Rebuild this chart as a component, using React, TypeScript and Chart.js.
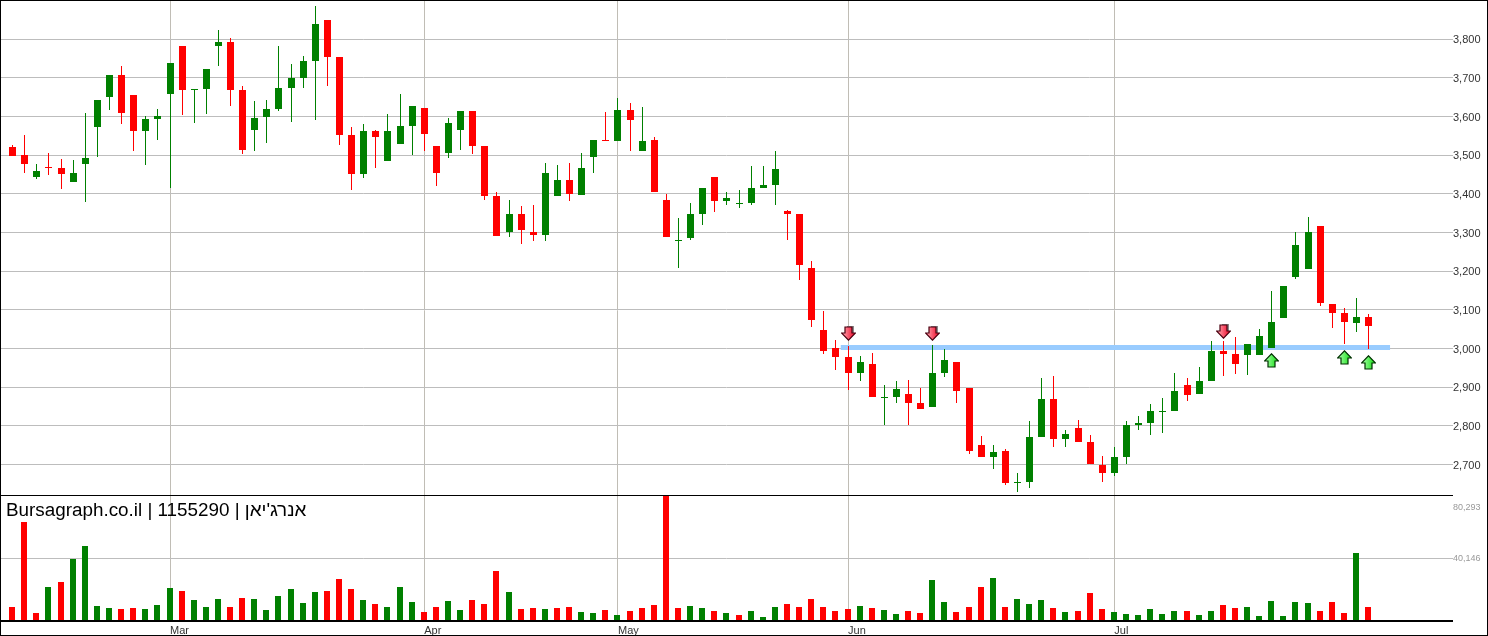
import React, { useEffect, useRef } from "react";
import { Chart, registerables } from "chart.js";

Chart.register(...registerables);

const opens = [3523,3502,3445,3471,3469,3432,3479,3574,3652,3709,3657,3564,3595,3660,3784,3670,3673,3784,3794,3670,3567,3600,3621,3675,3701,3745,3851,3755,3554,3453,3564,3487,3531,3577,3624,3525,3507,3567,3616,3525,3396,3303,3350,3303,3296,3396,3438,3399,3497,3541,3538,3618,3512,3541,3386,3280,3288,3350,3445,3383,3376,3378,3417,3425,3358,3350,3210,3050,3004,2981,2939,2963,2875,2877,2885,2862,2852,2939,2968,2901,2753,2722,2738,2655,2658,2772,2872,2769,2797,2761,2702,2681,2722,2805,2810,2839,2841,2908,2885,2919,2996,2988,2986,2986,3004,3081,3187,3208,3319,3117,3094,3068,3084];
const closes = [3500,3479,3461,3469,3453,3456,3494,3644,3709,3611,3564,3595,3603,3740,3670,3672,3724,3794,3670,3515,3598,3621,3675,3701,3745,3840,3755,3554,3453,3564,3549,3564,3577,3629,3556,3456,3585,3616,3525,3396,3293,3350,3309,3296,3456,3438,3402,3469,3541,3538,3618,3593,3538,3407,3291,3283,3350,3417,3383,3391,3378,3417,3425,3466,3350,3218,3076,2996,2981,2939,2968,2877,2877,2898,2862,2846,2939,2973,2893,2738,2722,2735,2655,2658,2772,2872,2769,2782,2761,2704,2681,2722,2805,2810,2841,2841,2893,2883,2919,2996,2988,2963,3014,3035,3071,3164,3270,3303,3120,3094,3071,3084,3061];
const highs = [3528,3554,3479,3507,3492,3489,3611,3644,3709,3732,3657,3603,3621,3740,3784,3672,3724,3825,3804,3680,3642,3644,3784,3737,3758,3887,3851,3755,3574,3582,3567,3608,3660,3629,3624,3525,3598,3616,3616,3525,3407,3386,3371,3373,3482,3476,3482,3507,3541,3613,3649,3636,3626,3549,3402,3340,3378,3417,3445,3407,3412,3474,3474,3512,3360,3350,3228,3099,3025,3009,2983,2991,2908,2919,2921,2901,3012,3001,2968,2901,2777,2753,2743,2679,2815,2926,2932,2790,2818,2779,2725,2746,2815,2828,2859,2875,2939,2926,2955,3022,3022,3032,3014,3053,3151,3164,3303,3342,3319,3117,3107,3133,3092];
const lows = [3500,3456,3440,3451,3414,3432,3381,3497,3618,3582,3513,3476,3541,3417,3605,3585,3608,3732,3629,3505,3513,3533,3616,3587,3675,3593,3680,3528,3412,3443,3469,3487,3531,3502,3513,3422,3494,3515,3505,3386,3293,3291,3272,3280,3280,3396,3383,3399,3456,3538,3538,3512,3512,3407,3291,3210,3283,3321,3355,3373,3365,3373,3417,3373,3283,3179,3058,2988,2947,2895,2919,2877,2803,2862,2803,2846,2852,2929,2862,2728,2722,2691,2648,2632,2640,2772,2746,2746,2761,2704,2658,2673,2704,2790,2779,2784,2841,2867,2885,2919,2932,2937,2934,2986,3004,3081,3182,3208,3112,3055,3014,3045,3001];
const volumes = [8420,63670,4750,21580,24820,39710,48130,9280,7990,7340,7990,7340,9930,20930,18990,13160,8630,13810,8630,14460,13810,6690,15750,20290,11220,18340,18990,26760,20290,13160,10570,8630,21580,11870,5400,8630,12520,6690,13160,10570,31940,18340,7340,7990,7340,7990,8630,5400,4750,6690,3450,6040,7990,9930,80293,7990,9280,7990,6040,4750,3450,6040,2160,8630,10570,8630,13810,8630,6040,7340,9280,7990,6690,4100,6040,4750,26110,11870,5400,8630,21580,27410,8630,13810,10570,13160,7990,5400,6040,17700,7340,5400,4100,3450,7340,4100,6040,6040,3450,6040,9930,7990,8630,2800,12520,2800,11870,11220,6040,11870,4750,43590,8630];
const volumeDirs = "RRRGRGGGGRRGGGRGGGRRGGGGGGRRRGRGGGRRGGRRR" + "GRRGRRGGRGRRRRRGGRGRGGGRRRRRRGRGGRRGGRRRG" + "RGGGRGRRRGGGGGGRGGRRGGGGGGRRRGR";

const priceTicks = [2700,2800,2900,3000,3100,3200,3300,3400,3500,3600,3700,3800];
const volumeTicks = [40146,80293];
const monthTicks = [13,34,50,69,91];
const monthLabels = ["Mar","Apr","May","Jun","Jul"];
const resistanceX = [68.4,113.77];
const resistanceY = [3002.7,3002.7];
const downArrowX = [69,76,100];
const downArrowY = [3037.6,3037.6,3044];
const upArrowX = [104,110,112];
const upArrowY = [2970,2978,2965];
const titleText = "Bursagraph.co.il | 1155290 | אנרג'יאן";

const GREEN = "#008000";
const RED = "#FF0000";
const FONT = "'Liberation Sans', Arial, sans-serif";

function makeArrow(down: boolean): HTMLCanvasElement {
  const c = document.createElement("canvas");
  c.width = 15; c.height = 15;
  const g = c.getContext("2d")!;
  const shape = (dx: number, dy: number) => {
    g.beginPath();
    const pts = [[4,1],[11,1],[11,7],[14.5,7],[7.5,14.2],[0.5,7],[4,7]];
    pts.forEach(([x,y],i) => {
      const py = down ? y : 15 - y;
      if (i === 0) g.moveTo(x + dx, py + dy); else g.lineTo(x + dx, py + dy);
    });
    g.closePath();
  };
  if (down) {
    g.fillStyle = "#8a8a8a";
    g.fillRect(6, 0, 7, 2);
    g.fillRect(11, 0, 2, 7);
  }
  shape(0, 0);
  const grad = g.createLinearGradient(2, 0, 13, 0);
  if (down) { grad.addColorStop(0, "#ffa0ac"); grad.addColorStop(1, "#f01030"); }
  else { grad.addColorStop(0, "#a0ffa0"); grad.addColorStop(1, "#20e020"); }
  g.fillStyle = grad;
  g.fill();
  g.lineWidth = 1.2;
  g.strokeStyle = down ? "#4a0010" : "#003000";
  g.stroke();
  return c;
}

const pixelSnap = {
  id: "pixelSnap",
  afterDatasetsUpdate(chart: any) {
    chart.data.datasets.forEach((ds: any, i: number) => {
      const meta = chart.getDatasetMeta(i);
      if (meta.type === "bar") {
        const odd = ds.barThickness % 2 === 1;
        const off = ds.yAxisID === "y" ? 0.75 : 0;
        meta.data.forEach((el: any) => {
          el.x = Math.floor(el.x) + (odd ? 0.5 : 0);
          el.y = Math.round(el.y + off);
          el.base = Math.round(el.base + off);
          if (el.y === el.base) el.base = el.y + 1;
        });
      } else if (ds.isArrow) {
        meta.data.forEach((el: any) => {
          el.x = Math.floor(el.x) + 0.5;
          el.y = Math.floor(el.y) + 0.5;
        });
      }
    });
  },
};

const frame = {
  id: "frame",
  afterDraw(chart: any) {
    const g = chart.ctx;
    const { left, right, bottom } = chart.chartArea;
    const sepY = chart.scales.y2.top;
    g.save();
    g.fillStyle = "#000";
    g.fillRect(left, sepY, right - left, 1);
    g.fillRect(left, bottom - 1, right - left, 2);
    g.fillRect(0, 0, chart.width, 1);
    g.fillRect(0, 0, 1, chart.height);
    g.fillRect(chart.width - 1, 0, 1, chart.height);
    g.fillRect(0, chart.height - 1, chart.width, 1);
    g.fillStyle = "#000";
    g.font = `18.85px ${FONT}`;
    g.textBaseline = "alphabetic";
    g.textAlign = "left";
    g.direction = "ltr";
    g.fillText(titleText, 6, sepY + 21);
    g.restore();
  },
};

export default function App() {
  const ref = useRef<HTMLCanvasElement>(null);
  useEffect(() => {
    const xs = opens.map((_, i) => i);
    const wickColors = opens.map((o, i) => (closes[i] >= o ? GREEN : RED));
    const barBase = { grouped: false, inflateAmount: 0, borderWidth: 0, xAxisID: "x" };
    const chart = new Chart(ref.current!, {
      type: "bar",
      data: {
        datasets: [
          {
            type: "scatter", label: "Up", isArrow: true, order: 0, xAxisID: "x", yAxisID: "y",
            data: upArrowX.map((x, i) => ({ x, y: upArrowY[i] })),
            pointStyle: makeArrow(false), pointRadius: 8, showLine: false,
          },
          {
            type: "scatter", label: "Down", isArrow: true, order: 0, xAxisID: "x", yAxisID: "y",
            data: downArrowX.map((x, i) => ({ x, y: downArrowY[i] })),
            pointStyle: makeArrow(true), pointRadius: 8, showLine: false,
          },
          {
            ...barBase, label: "Body", order: 1, yAxisID: "y", barThickness: 7,
            data: xs.map((x) => ({ x, y: [opens[x], closes[x]] })),
            backgroundColor: wickColors,
          },
          {
            ...barBase, label: "Wick", order: 2, yAxisID: "y", barThickness: 1,
            data: xs.map((x) => ({ x, y: [lows[x], highs[x]] })),
            backgroundColor: wickColors,
          },
          {
            type: "line", label: "Resistance", order: 3, xAxisID: "x", yAxisID: "y",
            data: resistanceX.map((x, i) => ({ x, y: resistanceY[i] })),
            borderColor: "#99CCFF", borderWidth: 5, pointRadius: 0, borderCapStyle: "butt", tension: 0,
          },
          {
            ...barBase, label: "Volume", order: 4, yAxisID: "y2", barThickness: 6,
            data: xs.map((x) => ({ x, y: volumes[x] })),
            backgroundColor: xs.map((x) => (volumeDirs[x] === "G" ? GREEN : RED)),
          },
        ],
      } as any,
      options: {
        animation: false,
        responsive: false,
        layout: { padding: 0, autoPadding: false },
        plugins: { legend: { display: false }, tooltip: { enabled: false }, title: { display: false } },
        scales: {
          x: {
            type: "linear",
            position: "bottom",
            offset: false,
            min: -12.63 / 12.107,
            max: (1453 - 12.63) / 12.107,
            afterBuildTicks: (s: any) => { s.ticks = monthTicks.map((value) => ({ value })); },
            afterFit: (s: any) => { s.height = 15; s.paddingLeft = 0; s.paddingRight = 0; s.paddingTop = 0; s.paddingBottom = 0; },
            border: { display: false },
            grid: { offset: false, color: "#C0BDB5", drawTicks: false, lineWidth: 1 },
            ticks: {
              autoSkip: false, maxRotation: 0, minRotation: 0, align: "start", padding: 3,
              color: "#333", font: { family: FONT, size: 11 },
              callback: (v: any) => monthLabels[monthTicks.indexOf(v)] ?? "",
            },
          },
          y: {
            type: "linear",
            position: "right",
            stack: "panes",
            stackWeight: 495,
            min: 3000 - (495 - 348.53) / 0.38667,
            max: 3000 + 348.53 / 0.38667,
            afterBuildTicks: (s: any) => { s.ticks = priceTicks.map((value) => ({ value })); },
            afterFit: (s: any) => { s.width = 35; s.paddingLeft = 0; s.paddingRight = 0; s.paddingTop = 0; s.paddingBottom = 0; },
            border: { display: false },
            grid: { color: "#BDBDBD", drawTicks: false, lineWidth: 1 },
            ticks: {
              padding: 0, labelOffset: 1, color: "#333", font: { family: FONT, size: 11 },
              callback: (v: any) => Number(v).toLocaleString("en-US"),
            },
          },
          y2: {
            type: "linear",
            position: "right",
            stack: "panes",
            stackWeight: 126,
            min: -80293 / 124,
            max: 80293 + 80293 / 124,
            beginAtZero: false,
            afterBuildTicks: (s: any) => { s.ticks = volumeTicks.map((value) => ({ value })); },
            afterFit: (s: any) => { s.width = 35; s.paddingLeft = 0; s.paddingRight = 0; s.paddingTop = 0; s.paddingBottom = 0; },
            border: { display: false },
            grid: {
              drawTicks: false, lineWidth: 1,
              color: (c: any) => (c.tick && c.tick.value === volumeTicks[0] ? "#BDBDBD" : "rgba(0,0,0,0)"),
            },
            ticks: {
              padding: 0, labelOffset: 1, color: "#999", font: { family: FONT, size: 9 },
              callback: (v: any) => {
                const s = Number(v).toLocaleString("en-US");
                return v === volumeTicks[1] ? ["", "", s] : s;
              },
            },
          },
        },
      } as any,
      plugins: [pixelSnap, frame],
    });
    return () => chart.destroy();
  }, []);
  return (
    <div style={{ position: "absolute", left: 0, top: 0, width: 1488, height: 636, overflow: "hidden", background: "#fff" }}>
      <canvas ref={ref} width={1488} height={636} style={{ display: "block", width: 1488, height: 636 }} />
    </div>
  );
}
